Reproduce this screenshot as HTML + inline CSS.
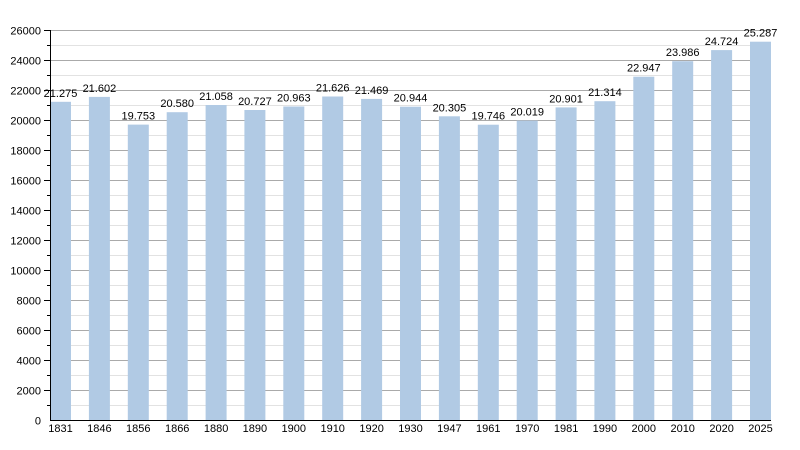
<!DOCTYPE html>
<html><head><meta charset="utf-8"><style>
html,body{margin:0;padding:0;background:#fff;}
svg{display:block;}
text{font-family:"Liberation Sans",Arial,sans-serif;font-size:11px;fill:#000;}
</style></head><body>
<svg width="800" height="450" viewBox="0 0 800 450" xmlns="http://www.w3.org/2000/svg">
<g stroke="#e2e2e2" stroke-width="1">
<line x1="50" x2="771" y1="405.5" y2="405.5"/><line x1="50" x2="771" y1="375.5" y2="375.5"/><line x1="50" x2="771" y1="345.5" y2="345.5"/><line x1="50" x2="771" y1="315.5" y2="315.5"/><line x1="50" x2="771" y1="285.5" y2="285.5"/><line x1="50" x2="771" y1="255.5" y2="255.5"/><line x1="50" x2="771" y1="225.5" y2="225.5"/><line x1="50" x2="771" y1="195.5" y2="195.5"/><line x1="50" x2="771" y1="165.5" y2="165.5"/><line x1="50" x2="771" y1="135.5" y2="135.5"/><line x1="50" x2="771" y1="105.5" y2="105.5"/><line x1="50" x2="771" y1="75.5" y2="75.5"/><line x1="50" x2="771" y1="45.5" y2="45.5"/>
</g>
<g stroke="#aaaaaa" stroke-width="1">
<line x1="50" x2="771" y1="390.5" y2="390.5"/><line x1="50" x2="771" y1="360.5" y2="360.5"/><line x1="50" x2="771" y1="330.5" y2="330.5"/><line x1="50" x2="771" y1="300.5" y2="300.5"/><line x1="50" x2="771" y1="270.5" y2="270.5"/><line x1="50" x2="771" y1="240.5" y2="240.5"/><line x1="50" x2="771" y1="210.5" y2="210.5"/><line x1="50" x2="771" y1="180.5" y2="180.5"/><line x1="50" x2="771" y1="150.5" y2="150.5"/><line x1="50" x2="771" y1="120.5" y2="120.5"/><line x1="50" x2="771" y1="90.5" y2="90.5"/><line x1="50" x2="771" y1="60.5" y2="60.5"/><line x1="50" x2="771" y1="30.5" y2="30.5"/>
</g>
<g fill="#b1cae4">
<rect x="50" y="101.8" width="21" height="318.7"/>
<rect x="88.9" y="96.9" width="21" height="323.6"/>
<rect x="127.8" y="124.6" width="21" height="295.9"/>
<rect x="166.7" y="112.2" width="21" height="308.3"/>
<rect x="205.6" y="105.0" width="21" height="315.5"/>
<rect x="244.4" y="110.0" width="21" height="310.5"/>
<rect x="283.3" y="106.5" width="21" height="314.0"/>
<rect x="322.2" y="96.5" width="21" height="324.0"/>
<rect x="361.1" y="98.9" width="21" height="321.6"/>
<rect x="400" y="106.7" width="21" height="313.8"/>
<rect x="438.9" y="116.3" width="21" height="304.2"/>
<rect x="477.8" y="124.7" width="21" height="295.8"/>
<rect x="516.7" y="120.6" width="21" height="299.9"/>
<rect x="555.6" y="107.4" width="21" height="313.1"/>
<rect x="594.4" y="101.2" width="21" height="319.3"/>
<rect x="633.3" y="76.7" width="21" height="343.8"/>
<rect x="672.2" y="61.2" width="21" height="359.3"/>
<rect x="711.1" y="50.1" width="21" height="370.4"/>
<rect x="750" y="41.7" width="21" height="378.8"/>
</g>
<g stroke="#000" stroke-width="1">
<line x1="50.5" x2="50.5" y1="30" y2="421"/>
<line x1="50" x2="771" y1="420.5" y2="420.5"/>
<line x1="44" x2="50" y1="390.5" y2="390.5"/><line x1="44" x2="50" y1="360.5" y2="360.5"/><line x1="44" x2="50" y1="330.5" y2="330.5"/><line x1="44" x2="50" y1="300.5" y2="300.5"/><line x1="44" x2="50" y1="270.5" y2="270.5"/><line x1="44" x2="50" y1="240.5" y2="240.5"/><line x1="44" x2="50" y1="210.5" y2="210.5"/><line x1="44" x2="50" y1="180.5" y2="180.5"/><line x1="44" x2="50" y1="150.5" y2="150.5"/><line x1="44" x2="50" y1="120.5" y2="120.5"/><line x1="44" x2="50" y1="90.5" y2="90.5"/><line x1="44" x2="50" y1="60.5" y2="60.5"/><line x1="44" x2="50" y1="30.5" y2="30.5"/>
<line x1="47" x2="50" y1="405.5" y2="405.5"/><line x1="47" x2="50" y1="375.5" y2="375.5"/><line x1="47" x2="50" y1="345.5" y2="345.5"/><line x1="47" x2="50" y1="315.5" y2="315.5"/><line x1="47" x2="50" y1="285.5" y2="285.5"/><line x1="47" x2="50" y1="255.5" y2="255.5"/><line x1="47" x2="50" y1="225.5" y2="225.5"/><line x1="47" x2="50" y1="195.5" y2="195.5"/><line x1="47" x2="50" y1="165.5" y2="165.5"/><line x1="47" x2="50" y1="135.5" y2="135.5"/><line x1="47" x2="50" y1="105.5" y2="105.5"/><line x1="47" x2="50" y1="75.5" y2="75.5"/><line x1="47" x2="50" y1="45.5" y2="45.5"/>
</g>
<g text-anchor="end">
<text x="41" y="424.5">0</text>
<text x="41" y="394.5">2000</text>
<text x="41" y="364.5">4000</text>
<text x="41" y="334.5">6000</text>
<text x="41" y="304.5">8000</text>
<text x="41" y="274.5">10000</text>
<text x="41" y="244.5">12000</text>
<text x="41" y="214.5">14000</text>
<text x="41" y="184.5">16000</text>
<text x="41" y="154.5">18000</text>
<text x="41" y="124.5">20000</text>
<text x="41" y="94.5">22000</text>
<text x="41" y="64.5">24000</text>
<text x="41" y="34.5">26000</text>
</g>
<g text-anchor="middle">
<text x="60.5" y="432">1831</text>
<text x="99.4" y="432">1846</text>
<text x="138.3" y="432">1856</text>
<text x="177.2" y="432">1866</text>
<text x="216.1" y="432">1880</text>
<text x="254.9" y="432">1890</text>
<text x="293.8" y="432">1900</text>
<text x="332.7" y="432">1910</text>
<text x="371.6" y="432">1920</text>
<text x="410.5" y="432">1930</text>
<text x="449.4" y="432">1947</text>
<text x="488.3" y="432">1961</text>
<text x="527.2" y="432">1970</text>
<text x="566.1" y="432">1981</text>
<text x="604.9" y="432">1990</text>
<text x="643.8" y="432">2000</text>
<text x="682.7" y="432">2010</text>
<text x="721.6" y="432">2020</text>
<text x="760.5" y="432">2025</text>
</g>
<g text-anchor="middle">
<text x="60.5" y="96.8">21.275</text>
<text x="99.4" y="91.9">21.602</text>
<text x="138.3" y="119.6">19.753</text>
<text x="177.2" y="107.2">20.580</text>
<text x="216.1" y="100.0">21.058</text>
<text x="254.9" y="105.0">20.727</text>
<text x="293.8" y="101.5">20.963</text>
<text x="332.7" y="91.5">21.626</text>
<text x="371.6" y="93.9">21.469</text>
<text x="410.5" y="101.7">20.944</text>
<text x="449.4" y="111.3">20.305</text>
<text x="488.3" y="119.7">19.746</text>
<text x="527.2" y="115.6">20.019</text>
<text x="566.1" y="102.4">20.901</text>
<text x="604.9" y="96.2">21.314</text>
<text x="643.8" y="71.7">22.947</text>
<text x="682.7" y="56.2">23.986</text>
<text x="721.6" y="45.1">24.724</text>
<text x="760.5" y="36.7">25.287</text>
</g>
</svg>
</body></html>
